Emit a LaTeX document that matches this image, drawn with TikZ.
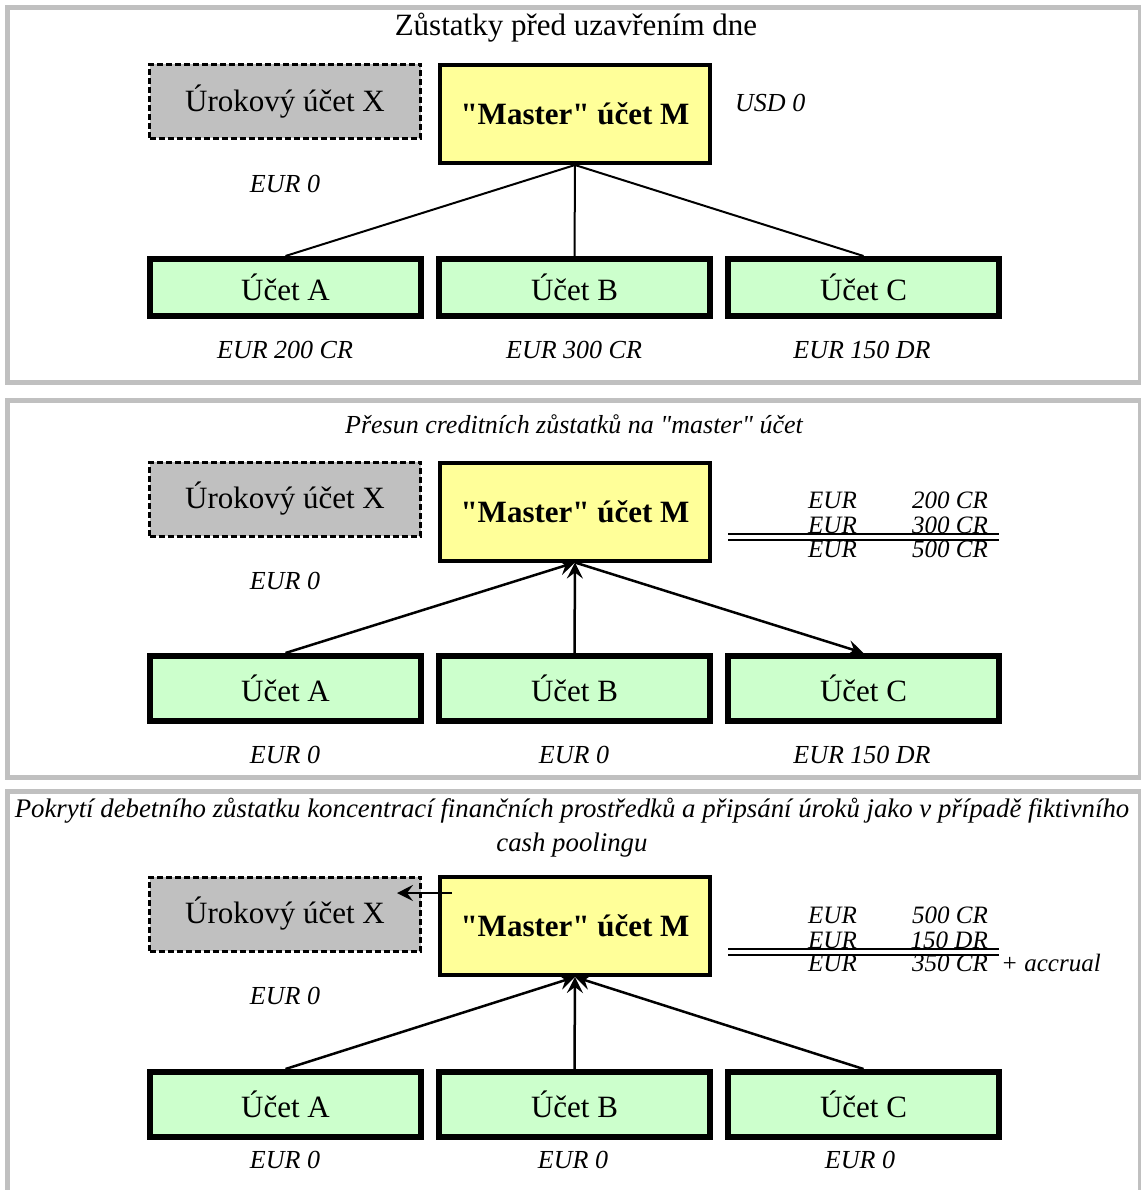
\documentclass[tikz,border=0pt]{standalone}
\usepackage{fontspec}
\setmainfont{Liberation Serif}[Ligatures=TeXOff]
\usetikzlibrary{arrows.meta}
\definecolor{frameg}{HTML}{C0C0C0}
\definecolor{xgray}{HTML}{C0C0C0}
\definecolor{myellow}{HTML}{FFFF99}
\definecolor{mgreen}{HTML}{CCFFCC}
\tikzset{
  big/.style={font=\fontsize{31}{36}\selectfont},
  lbl/.style={font=\fontsize{26}{34}\selectfont\itshape, inner sep=0pt},
  tbl/.style={font=\fontsize{25}{34}\selectfont\itshape, inner sep=0pt},
  xbox/.style={draw, dash pattern=on 6pt off 3pt, line width=3pt, fill=xgray,
    minimum width=271pt, minimum height=74pt, big, inner sep=0pt},
  mbox/.style={draw, line width=4pt, fill=myellow, minimum width=270pt,
    minimum height=98pt, font=\fontsize{31}{36}\selectfont\bfseries, inner sep=0pt},
  abox/.style={draw, line width=6pt, fill=mgreen, minimum width=271pt, big, inner sep=0pt},
  conn/.style={line width=2pt},
  arr/.style={line width=2.5pt, -{Stealth[length=16pt,width=16pt,inset=6pt]}},
  frame/.style={draw=frameg, line width=5pt},
  rulel/.style={line width=2pt},
}
\begin{document}
\begin{tikzpicture}[x=1pt,y=-1pt]
\useasboundingbox (0,0) rectangle (1140,1190);
% frames
\draw[frame] (7.5,7.5) rectangle (1140.5,382.5);
\draw[frame] (7.5,400.5) rectangle (1140.5,777.5);
\draw[frame] (7.5,1200) -- (7.5,791) -- (1140.5,791) -- (1140.5,1200);

% ---------------- Panel 1
\node[big, inner sep=0pt] (t1) at (576,28) {Zůstatky před uzavřením dne};
\node[xbox] (x1) at (285,101.5) {Úrokový účet X};
\node[mbox] (m1) at (575,114) {"Master" účet M};
\node[lbl, anchor=west] (u1) at (735,103) {USD 0};
\node[lbl] (e1) at (285,184) {EUR 0};
\node[abox, minimum height=57pt] (a1) at (285.5,287.5) {Účet A};
\node[abox, minimum height=57pt] (b1) at (574.5,287.5) {Účet B};
\node[abox, minimum height=57pt] (c1) at (863.5,287.5) {Účet C};
\node[lbl] (la1) at (285,350) {EUR 200 CR};
\node[lbl] (lb1) at (574,350) {EUR 300 CR};
\node[lbl] (lc1) at (862,350) {EUR 150 DR};
\draw[conn] (m1.south) -- (a1.north);
\draw[conn] (m1.south) -- (b1.north);
\draw[conn] (m1.south) -- (c1.north);

% ---------------- Panel 2
\node[lbl] (t2) at (574,424) {Přesun creditních zůstatků na "master" účet};
\node[xbox] (x2) at (285,499) {Úrokový účet X};
\node[mbox] (m2) at (575,511.5) {"Master" účet M};
\node[lbl] (e2) at (285,581) {EUR 0};
\node[abox, minimum height=65pt] (a2) at (285.5,688.5) {Účet A};
\node[abox, minimum height=65pt] (b2) at (574.5,688.5) {Účet B};
\node[abox, minimum height=65pt] (c2) at (863.5,688.5) {Účet C};
\node[lbl] (la2) at (285,755) {EUR 0};
\node[lbl] (lb2) at (574,755) {EUR 0};
\node[lbl] (lc2) at (862,755) {EUR 150 DR};
\draw[arr] (a2.north) -- (m2.south);
\draw[arr] (b2.north) -- (m2.south);
\draw[arr] (m2.south) -- (c2.north);
% table
\node[tbl, anchor=base west] (p2r1a) at (808,508.3) {EUR};
\node[tbl, anchor=base east] (p2r1b) at (988,508.3) {200 CR};
\node[tbl, anchor=base west] (p2r2a) at (808,533.3) {EUR};
\node[tbl, anchor=base east] (p2r2b) at (988,533.3) {300 CR};
\node[tbl, anchor=base west] (p2r3a) at (808,557.7) {EUR};
\node[tbl, anchor=base east] (p2r3b) at (988,557.7) {500 CR};
\draw[rulel] (728,533.5) -- (999,533.5);
\draw[rulel] (728,539.5) -- (999,539.5);

% ---------------- Panel 3
\node[lbl, align=center, font=\fontsize{26.8}{34}\selectfont\itshape] (t3) at (572,828) {Pokrytí debetního zůstatku koncentrací finančních prostředků a připsání úroků jako v případě fiktivního\\cash poolingu};
\node[xbox] (x3) at (285,914) {Úrokový účet X};
\node[mbox] (m3) at (575,926) {"Master" účet M};
\node[lbl] (e3) at (285,996) {EUR 0};
\node[abox, minimum height=65pt] (a3) at (285.5,1104.5) {Účet A};
\node[abox, minimum height=65pt] (b3) at (574.5,1104.5) {Účet B};
\node[abox, minimum height=65pt] (c3) at (863.5,1104.5) {Účet C};
\node[lbl] (la3) at (285,1160) {EUR 0};
\node[lbl] (lb3) at (573,1160) {EUR 0};
\node[lbl] (lc3) at (860,1160) {EUR 0};
\draw[arr] (a3.north) -- (m3.south);
\draw[arr] (b3.north) -- (m3.south);
\draw[arr] (c3.north) -- (m3.south);
\coordinate (s3) at (452,893);
\coordinate (f3) at (397,893);
\draw[line width=2pt, -{Stealth[length=16pt,width=16pt,inset=6pt]}] (s3) -- (f3);
% table
\node[tbl, anchor=base west] (p3r1a) at (808,923.3) {EUR};
\node[tbl, anchor=base east] (p3r1b) at (988,923.3) {500 CR};
\node[tbl, anchor=base west] (p3r2a) at (808,948.5) {EUR};
\node[tbl, anchor=base east] (p3r2b) at (988,948.5) {150 DR};
\node[tbl, anchor=base west] (p3r3a) at (808,971.7) {EUR};
\node[tbl, anchor=base east] (p3r3b) at (988,971.7) {350 CR};
\node[tbl, anchor=base west] (p3acc) at (1001,971.7) {+ accrual};
\draw[rulel] (728,949.3) -- (999,949.3);
\draw[rulel] (728,954.5) -- (999,954.5);
\end{tikzpicture}
\end{document}
